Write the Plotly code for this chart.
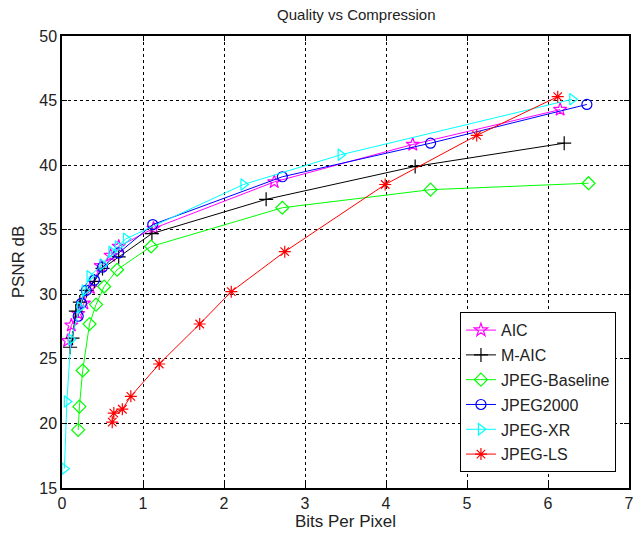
import plotly.graph_objects as go

# ---- data ----
aic_x = [0.07, 0.115, 0.2, 0.27, 0.35, 0.48, 0.6, 0.7, 1.13, 2.62, 4.33, 6.15]
aic_y = [26.4, 27.6, 28.5, 29.3, 30.5, 32.2, 33.0, 33.7, 35.1, 38.7, 41.6, 44.3]

maic_x = [0.1, 0.13, 0.17, 0.22, 0.3, 0.4, 0.5, 0.7, 1.11, 2.52, 4.36, 6.2]
maic_y = [25.9, 26.6, 28.7, 29.4, 30.3, 31.0, 32.0, 32.9, 34.7, 37.35, 39.9, 41.7]

jpeg_x = [0.2, 0.215, 0.255, 0.34, 0.42, 0.52, 0.68, 1.1, 2.72, 4.55, 6.5]
jpeg_y = [19.5, 21.3, 24.1, 27.7, 29.2, 30.6, 31.9, 33.7, 36.7, 38.1, 38.6]

j2k_x = [0.2, 0.24, 0.3, 0.4, 0.5, 0.7, 1.12, 2.72, 4.55, 6.48]
j2k_y = [28.3, 29.3, 30.3, 31.1, 32.1, 33.2, 35.4, 39.1, 41.7, 44.7]

xr_x = [0.03, 0.06, 0.11, 0.22, 0.28, 0.34, 0.5, 0.61, 0.69, 0.79, 2.24, 3.44, 6.3]
xr_y = [16.5, 21.7, 26.5, 29.0, 30.3, 31.4, 32.3, 33.3, 33.7, 34.3, 38.5, 40.8, 45.1]

ls_x = [0.62, 0.64, 0.745, 0.85, 1.2, 1.7, 2.09, 2.75, 3.99, 5.12, 6.12]
ls_y = [20.1, 20.8, 21.1, 22.1, 24.6, 27.7, 30.2, 33.3, 38.5, 42.3, 45.3]

series = [
    ("AIC", aic_x, aic_y, "#FF00FF", "star-open"),
    ("M-AIC", maic_x, maic_y, "#000000", "cross-thin-open"),
    ("JPEG-Baseline", jpeg_x, jpeg_y, "#00FF00", "diamond-open"),
    ("JPEG2000", j2k_x, j2k_y, "#0000FF", "circle-open"),
    ("JPEG-XR", xr_x, xr_y, "#00FFFF", "triangle-right-open"),
    ("JPEG-LS", ls_x, ls_y, "#FF0000", "asterisk-open"),
]

x_ticks = [0, 1, 2, 3, 4, 5, 6, 7]
y_ticks = [15, 20, 25, 30, 35, 40, 45, 50]

FONT = "Liberation Sans, Arial"

fig = go.Figure()
for i, (name, xs, ys, col, sym) in enumerate(series):
    fig.add_trace(go.Scatter(
        x=xs, y=ys, name=name, mode="lines+markers",
        legendgroup=f"g{i}",
        line=dict(color=col, width=1),
        marker=dict(symbol=sym, size=10, color=col, line=dict(color=col, width=1.2)),
    ))

axis_common = dict(
    showline=True, linecolor="black", linewidth=1.5, mirror="ticks",
    ticks="inside", ticklen=5, tickcolor="black",
    showgrid=True, gridcolor="black", griddash="dot", gridwidth=1,
    zeroline=False,
    tickfont=dict(family=FONT, size=16, color="#222"),
)

fig.update_xaxes(range=[0, 7], tickvals=x_ticks, title=dict(text="Bits Per Pixel", standoff=2,
                 font=dict(family=FONT, size=17, color="#222")), **axis_common)
fig.update_yaxes(range=[15, 50], tickvals=y_ticks, title=dict(text="PSNR dB", standoff=10,
                 font=dict(family=FONT, size=17, color="#222")), **axis_common)

fig.update_layout(
    width=642, height=536,
    margin=dict(l=62, r=8, t=36, b=48),
    paper_bgcolor="white", plot_bgcolor="white",
    title=dict(text="Quality vs Compression", x=0.555, xanchor="center", y=0.972, yanchor="middle",
               font=dict(family=FONT, size=15, color="#222")),
    legend=dict(x=0.977, y=0.035, xanchor="right", yanchor="bottom",
                bordercolor="black", borderwidth=1, bgcolor="white",
                tracegroupgap=1, entrywidth=182, entrywidthmode="pixels",
                font=dict(family=FONT, size=16, color="#222")),
    showlegend=True,
)

fig.write_html("out.html")
